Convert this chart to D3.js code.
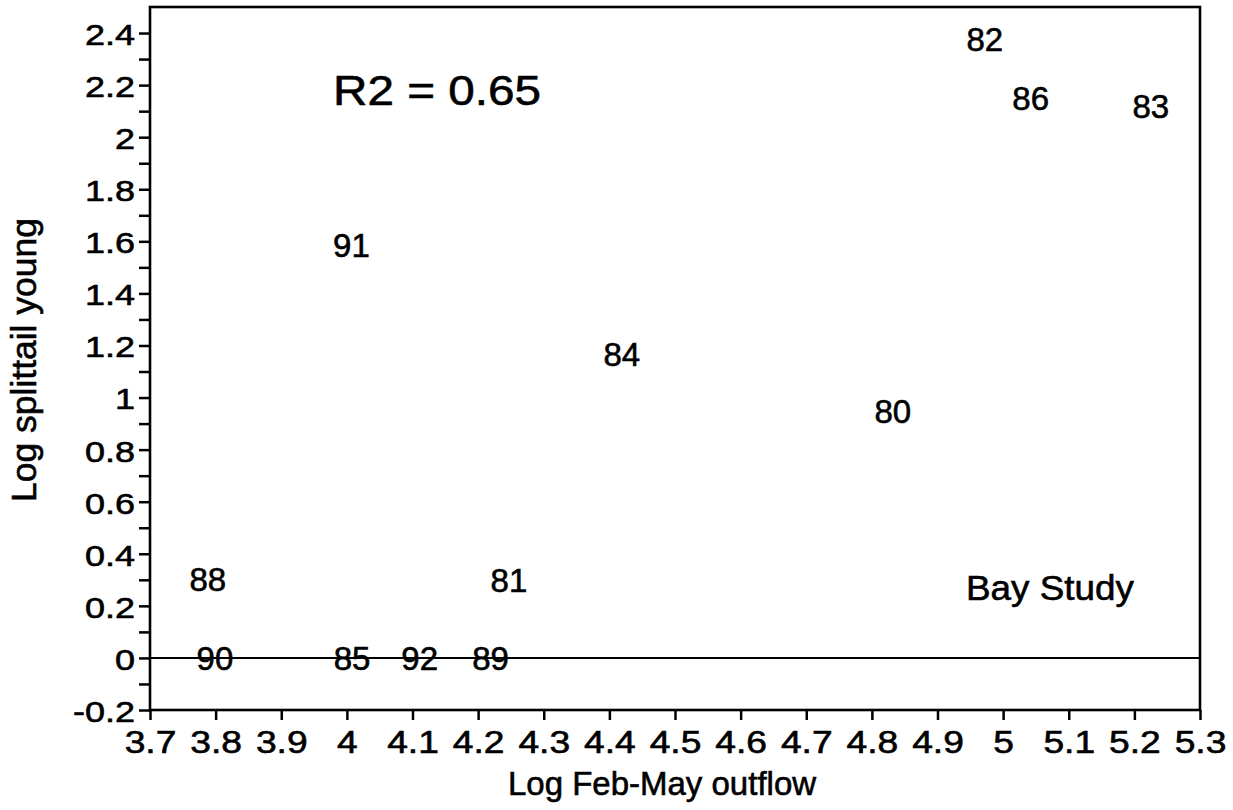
<!DOCTYPE html>
<html>
<head>
<meta charset="utf-8">
<script src="https://cdn.jsdelivr.net/npm/d3@7"></script>
<style>
  html, body { margin: 0; padding: 0; background: #fff; }
  svg { display: block; }
  text { font-family: "Liberation Sans", Arial, Helvetica, sans-serif; fill: #000; stroke: #000; stroke-width: 0.6px; }
</style>
</head>
<body>
<svg id="chart" width="1233" height="810"></svg>
<script>
// Year labels (19xx) placed at (log outflow, log young)
const years   = ["82", "86", "83", "91", "84", "80", "88", "81", "90", "85", "92", "89"];
const outflow = [4.972, 5.042, 5.225, 4.007, 4.419, 4.832, 3.788, 4.247, 3.799, 4.008, 4.111, 4.219];
const young   = [2.375, 2.149, 2.121, 1.586, 1.167, 0.948, 0.301, 0.300, 0.0, 0.0, 0.0, 0.0];

const xTicks = [3.7, 3.8, 3.9, 4.0, 4.1, 4.2, 4.3, 4.4, 4.5, 4.6, 4.7, 4.8, 4.9, 5.0, 5.1, 5.2, 5.3];
const yTicks = [-0.2, 0, 0.2, 0.4, 0.6, 0.8, 1.0, 1.2, 1.4, 1.6, 1.8, 2.0, 2.2, 2.4];
const yMinor = [-0.1, 0.1, 0.3, 0.5, 0.7, 0.9, 1.1, 1.3, 1.5, 1.7, 1.9, 2.1, 2.3];

const xTitle = "Log Feb-May outflow";
const yTitle = "Log splittail young";
const fitNote = "R2 = 0.65";
const sourceNote = "Bay Study";

const svg = d3.select("#chart");
const plotL = 150, plotR = 1200, plotT = 7, plotB = 710;

const x = d3.scaleLinear().domain([3.7, 5.3]).range([plotL, plotR]);
const y = d3.scaleLinear().domain([-0.2, 2.5]).range([plotB, plotT]);

// plain hyphen for negatives, no trailing zeros
const tickFmt = d => String(+d.toFixed(1));

// x axis
const gx = svg.append("g")
  .attr("transform", `translate(0,${plotB})`)
  .call(d3.axisBottom(x).tickValues(xTicks).tickSize(10).tickSizeOuter(0).tickFormat(tickFmt));
gx.select(".domain").remove();
gx.selectAll(".tick line").attr("stroke", "#000").attr("stroke-width", 2.5);
gx.selectAll(".tick text")
  .attr("y", 0).attr("dy", 0)
  .attr("transform", "translate(0,43) scale(1.2,1)")
  .style("font-size", "31px")
  .style("font-family", "'Liberation Sans', Arial, sans-serif")
  .attr("fill", "#000");

// y axis, major ticks with labels
const gy = svg.append("g")
  .attr("transform", `translate(${plotL},0)`)
  .call(d3.axisLeft(y).tickValues(yTicks).tickSize(11).tickSizeOuter(0).tickFormat(tickFmt));
gy.select(".domain").remove();
gy.selectAll(".tick line").attr("stroke", "#000").attr("stroke-width", 2.5);
gy.selectAll(".tick text")
  .attr("x", 0).attr("dy", "0.38em")
  .attr("transform", "translate(-15,0) scale(1.2,1)")
  .style("font-size", "30px")
  .style("font-family", "'Liberation Sans', Arial, sans-serif")
  .attr("fill", "#000");

// y axis, minor ticks
svg.append("g")
  .attr("transform", `translate(${plotL},0)`)
  .call(d3.axisLeft(y).tickValues(yMinor).tickSize(11).tickSizeOuter(0).tickFormat(""))
  .call(g => g.select(".domain").remove())
  .selectAll(".tick line").attr("stroke", "#000").attr("stroke-width", 2.5);

// frame
svg.append("rect")
  .attr("x", x(3.7)).attr("y", y(2.5))
  .attr("width", x(5.3) - x(3.7)).attr("height", y(-0.2) - y(2.5))
  .attr("fill", "none").attr("stroke", "#000").attr("stroke-width", 2.6);

// zero reference line
svg.append("line")
  .attr("x1", x(3.7)).attr("x2", x(5.3))
  .attr("y1", y(0)).attr("y2", y(0))
  .attr("stroke", "#000").attr("stroke-width", 2);

// year labels
const pts = years.map((yr, i) => ({ yr, ox: outflow[i], yg: young[i] }));
svg.append("g").selectAll("text").data(pts).join("text")
  .attr("x", d => x(d.ox))
  .attr("y", d => y(d.yg))
  .attr("dy", "0.36em")
  .attr("text-anchor", "middle")
  .style("font-size", "33px")
  .text(d => d.yr);

// annotations
svg.append("text")
  .attr("x", 333).attr("y", 105)
  .attr("textLength", 208).attr("lengthAdjust", "spacingAndGlyphs")
  .style("font-size", "42px")
  .text(fitNote);

svg.append("text")
  .attr("x", 966).attr("y", 600)
  .attr("textLength", 168).attr("lengthAdjust", "spacingAndGlyphs")
  .style("font-size", "35px")
  .text(sourceNote);

// axis titles
svg.append("text")
  .attr("x", 662).attr("y", 795)
  .attr("text-anchor", "middle")
  .style("font-size", "33px")
  .text(xTitle);

svg.append("text")
  .attr("transform", "translate(36,360) rotate(-90)")
  .attr("text-anchor", "middle")
  .style("font-size", "35.5px")
  .text(yTitle);
</script>
</body>
</html>
